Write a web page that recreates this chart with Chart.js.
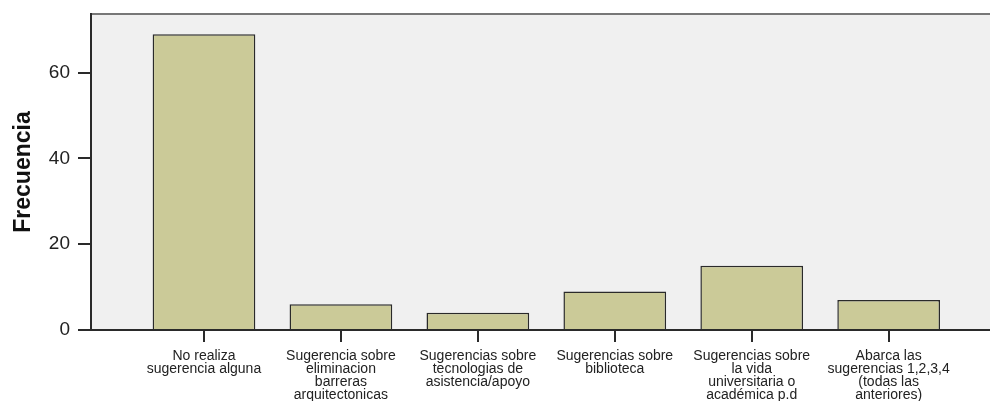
<!DOCTYPE html>
<html lang="es">
<head>
    <meta charset="UTF-8">
    <title>Frecuencia de sugerencias</title>
    <style>
        body {
            margin: 0;
            background-color: #ffffff;
        }
        .wrap {
            width: 990px;
            height: 401px;
        }
    </style>
</head>
<body>
    <div class="wrap">
        <canvas id="chart"></canvas>
    </div>

    <script src="https://cdn.jsdelivr.net/npm/chart.js"></script>
    <script>
        // categories (one array of lines per bar) and their counts
        const categories = [
            ['No realiza', 'sugerencia alguna'],
            ['Sugerencia sobre', 'eliminacion', 'barreras', 'arquitectonicas'],
            ['Sugerencias sobre', 'tecnologias de', 'asistencia/apoyo'],
            ['Sugerencias sobre', 'biblioteca'],
            ['Sugerencias sobre', 'la vida', 'universitaria o', 'académica p.d'],
            ['Abarca las', 'sugerencias 1,2,3,4', '(todas las', 'anteriores)']
        ];
        const frecuencia = [69, 6, 4, 9, 15, 7];
        const yTicks = [0, 20, 40, 60];

        // light grey plot area with a top frame line
        const plotFrame = {
            id: 'plotFrame',
            beforeDraw(chart) {
                const { ctx, chartArea: a } = chart;
                ctx.save();
                ctx.fillStyle = '#f0f0f0';
                ctx.fillRect(a.left, a.top, a.right - a.left, a.bottom - a.top);
                ctx.strokeStyle = '#777777';
                ctx.lineWidth = 2;
                ctx.beginPath();
                ctx.moveTo(a.left, a.top);
                ctx.lineTo(a.right, a.top);
                ctx.stroke();
                ctx.restore();
            }
        };

        const ctx = document.getElementById('chart').getContext('2d');
        new Chart(ctx, {
            type: 'bar',
            data: {
                datasets: [{
                    label: 'Frecuencia',
                    data: frecuencia.map((v, i) => ({ x: i, y: v })),
                    backgroundColor: 'rgb(203, 202, 152)',
                    borderColor: '#2a2a2a',
                    borderWidth: 1.5,
                    barPercentage: 0.75,
                    categoryPercentage: 1
                }]
            },
            plugins: [plotFrame],
            options: {
                responsive: true,
                maintainAspectRatio: false,
                animation: false,
                layout: { padding: { top: 14, right: 0, left: 0, bottom: 0 } },
                plugins: {
                    legend: { display: false },
                    tooltip: { enabled: false }
                },
                scales: {
                    x: {
                        type: 'linear',
                        offset: false,
                        min: -0.825,
                        max: 5.74,
                        afterBuildTicks: (scale) => {
                            scale.ticks = categories.map((c, i) => ({ value: i }));
                        },
                        afterFit: (scale) => {
                            scale.height = 71;
                            scale.paddingLeft = 0;
                            scale.paddingRight = 0;
                        },
                        grid: {
                            offset: false,
                            drawOnChartArea: false,
                            drawTicks: true,
                            tickLength: 12,
                            color: '#2a2a2a',
                            lineWidth: 2
                        },
                        border: { color: '#2a2a2a', width: 2 },
                        ticks: {
                            autoSkip: false,
                            maxRotation: 0,
                            padding: 8,
                            color: '#222222',
                            font: { family: 'Liberation Sans, Arial', size: 14, lineHeight: 0.93 },
                            callback: (value) => categories[value]
                        }
                    },
                    y: {
                        min: 0,
                        max: 73.7,
                        afterBuildTicks: (scale) => {
                            scale.ticks = yTicks.map(v => ({ value: v }));
                        },
                        afterFit: (scale) => {
                            scale.width = 91;
                            scale.paddingTop = 0;
                            scale.paddingBottom = 0;
                        },
                        grid: {
                            drawOnChartArea: false,
                            drawTicks: true,
                            tickLength: 13,
                            color: '#2a2a2a',
                            lineWidth: 2
                        },
                        border: { color: '#2a2a2a', width: 2 },
                        ticks: {
                            padding: 8,
                            color: '#222222',
                            font: { family: 'Liberation Sans, Arial', size: 19 }
                        },
                        title: {
                            display: true,
                            text: 'Frecuencia',
                            color: '#111111',
                            padding: { top: 10, bottom: 0 },
                            font: { family: 'Liberation Sans, Arial', size: 23, weight: 'bold' }
                        }
                    }
                }
            }
        });
    </script>
</body>
</html>
